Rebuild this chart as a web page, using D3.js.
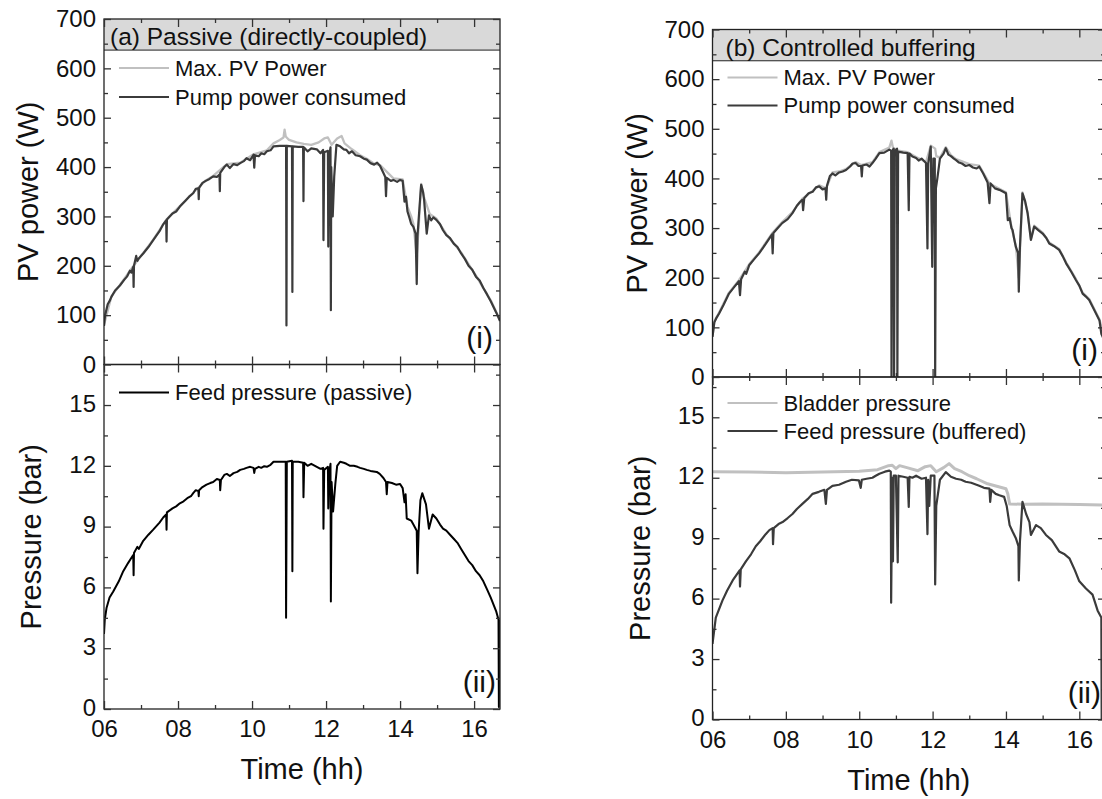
<!DOCTYPE html>
<html>
<head>
<meta charset="utf-8">
<script src="https://cdn.jsdelivr.net/npm/d3@7"></script>
<style>
body { margin: 0; background: #fff; }
text { font-family: "Liberation Sans", Arial, sans-serif; fill: #111; }
</style>
</head>
<body>
<svg id="chart" width="1102" height="799"></svg>
<script>
//** DATA *****************************************
const timeDomain = [6, 16.7];
const powerDomain = [0, 700];
const pressureDomain = [0, 17];

const timeTicks = [6, 8, 10, 12, 14, 16];
const timeMinor = [7, 9, 11, 13, 15];
const powerTicks = [0, 100, 200, 300, 400, 500, 600, 700];
const powerMinor = [50, 150, 250, 350, 450, 550, 650];
const pressureTicks = [0, 3, 6, 9, 12, 15];
const pressureMinor = [1.5, 4.5, 7.5, 10.5, 13.5, 16.5];

// (a) passive - [hour, W]
const maxPvPassive = [[6.00, 80], [6.20, 138], [6.43, 161], [6.79, 199], [7.06, 226], [7.33, 253], [7.69, 294], [8.05, 321], [8.41, 348], [8.75, 373], [8.95, 382], [9.32, 406], [9.68, 409], [10.04, 426], [10.40, 434], [10.58, 448], [10.75, 455], [10.85, 460], [10.88, 476], [10.91, 462], [11.00, 455], [11.20, 450], [11.40, 447], [11.60, 445], [11.80, 450], [11.95, 458], [12.05, 460], [12.15, 445], [12.30, 458], [12.42, 463], [12.50, 448], [12.70, 436], [12.92, 424], [13.10, 417], [13.30, 407], [13.46, 404], [13.82, 377], [14.07, 375], [14.20, 320], [14.30, 300], [14.36, 285], [14.45, 220], [14.50, 275], [14.57, 366], [14.65, 338], [14.80, 305], [14.98, 296], [15.25, 264], [15.65, 227], [16.05, 180], [16.45, 130], [16.70, 90]];

const pumpPassive = [[6.00, 78], [6.03, 100], [6.10, 122], [6.16, 130], [6.20, 137], [6.30, 150], [6.43, 160], [6.55, 172], [6.62, 178], [6.70, 190], [6.74, 186], [6.79, 198], [6.80, 157], [6.81, 200], [6.87, 220], [6.90, 210], [6.93, 214], [7.06, 225], [7.20, 238], [7.33, 252], [7.50, 270], [7.60, 284], [7.68, 292], [7.69, 249], [7.70, 294], [7.85, 306], [7.95, 310], [8.05, 320], [8.20, 332], [8.30, 340], [8.41, 347], [8.48, 356], [8.55, 357], [8.56, 335], [8.57, 358], [8.66, 368], [8.75, 372], [8.85, 376], [8.95, 381], [9.05, 380], [9.12, 385], [9.13, 351], [9.14, 388], [9.25, 400], [9.32, 405], [9.40, 398], [9.50, 406], [9.60, 404], [9.68, 408], [9.78, 412], [9.85, 418], [9.95, 414], [10.04, 425], [10.06, 399], [10.08, 424], [10.18, 422], [10.25, 428], [10.33, 426], [10.40, 432], [10.50, 434], [10.58, 442], [10.75, 443], [10.92, 443], [10.93, 79], [10.94, 443], [11.08, 442], [11.09, 147], [11.10, 442], [11.25, 441], [11.38, 441], [11.39, 331], [11.40, 440], [11.50, 432], [11.60, 438], [11.75, 436], [11.85, 428], [11.92, 435], [11.93, 252], [11.95, 430], [12.05, 433], [12.06, 239], [12.08, 420], [12.12, 440], [12.13, 110], [12.14, 400], [12.18, 300], [12.22, 380], [12.28, 445], [12.38, 442], [12.48, 436], [12.55, 435], [12.62, 428], [12.70, 432], [12.80, 424], [12.92, 422], [13.02, 417], [13.10, 415], [13.20, 408], [13.30, 405], [13.38, 409], [13.46, 402], [13.55, 388], [13.60, 380], [13.62, 341], [13.64, 378], [13.75, 372], [13.82, 374], [13.92, 370], [14.00, 374], [14.07, 372], [14.12, 330], [14.16, 340], [14.20, 310], [14.25, 298], [14.30, 285], [14.36, 279], [14.42, 265], [14.45, 163], [14.47, 260], [14.55, 345], [14.57, 364], [14.62, 350], [14.65, 333], [14.72, 265], [14.78, 302], [14.84, 292], [14.90, 298], [14.98, 293], [15.08, 284], [15.16, 272], [15.25, 262], [15.35, 256], [15.45, 245], [15.55, 238], [15.65, 225], [15.75, 214], [15.85, 200], [15.95, 192], [16.05, 178], [16.15, 170], [16.25, 155], [16.35, 142], [16.45, 128], [16.60, 105], [16.70, 88]];

// (a) passive - [hour, bar]
const feedPassive = [[6.00, 3.7], [6.02, 4.4], [6.07, 5.0], [6.15, 5.5], [6.25, 5.8], [6.40, 6.3], [6.52, 6.8], [6.65, 7.2], [6.72, 7.4], [6.79, 7.6], [6.80, 6.6], [6.81, 7.7], [6.90, 8.0], [6.94, 7.9], [7.06, 8.3], [7.20, 8.6], [7.33, 8.85], [7.50, 9.2], [7.60, 9.45], [7.68, 9.6], [7.69, 8.85], [7.70, 9.7], [7.85, 9.9], [7.95, 10.0], [8.05, 10.15], [8.15, 10.25], [8.25, 10.4], [8.35, 10.5], [8.41, 10.65], [8.48, 10.8], [8.55, 10.75], [8.56, 10.5], [8.57, 10.8], [8.66, 10.95], [8.77, 11.07], [8.87, 11.15], [8.95, 11.2], [9.05, 11.35], [9.13, 11.3], [9.14, 10.8], [9.16, 11.3], [9.25, 11.55], [9.32, 11.6], [9.40, 11.5], [9.50, 11.64], [9.60, 11.7], [9.68, 11.8], [9.78, 11.85], [9.85, 11.9], [9.95, 11.95], [10.04, 11.9], [10.06, 11.65], [10.08, 11.85], [10.18, 11.95], [10.25, 11.9], [10.33, 11.98], [10.40, 11.95], [10.50, 12.05], [10.58, 12.2], [10.75, 12.2], [10.91, 12.2], [10.92, 4.5], [10.94, 12.2], [11.08, 12.25], [11.09, 6.8], [11.10, 12.2], [11.25, 12.2], [11.38, 12.15], [11.39, 10.45], [11.41, 12.15], [11.50, 12.0], [11.60, 12.1], [11.75, 11.95], [11.85, 11.85], [11.92, 11.9], [11.93, 8.9], [11.95, 11.8], [12.05, 11.95], [12.06, 9.9], [12.08, 11.6], [12.12, 12.1], [12.13, 5.3], [12.15, 11.2], [12.19, 9.75], [12.25, 11.1], [12.30, 12.0], [12.38, 12.2], [12.48, 12.15], [12.55, 12.1], [12.65, 12.0], [12.75, 12.0], [12.85, 11.95], [12.92, 11.9], [13.02, 11.85], [13.10, 11.8], [13.20, 11.75], [13.37, 11.7], [13.45, 11.6], [13.55, 11.4], [13.62, 11.2], [13.64, 10.6], [13.66, 11.2], [13.78, 11.15], [13.89, 11.07], [14.00, 11.1], [14.07, 10.9], [14.12, 10.2], [14.15, 10.6], [14.18, 9.4], [14.30, 9.3], [14.36, 9.1], [14.45, 8.8], [14.47, 6.7], [14.50, 8.7], [14.55, 10.3], [14.60, 10.65], [14.70, 10.1], [14.78, 8.9], [14.88, 9.6], [14.98, 9.4], [15.08, 9.1], [15.16, 8.9], [15.25, 8.8], [15.35, 8.6], [15.45, 8.4], [15.55, 8.2], [15.65, 7.9], [15.75, 7.6], [15.85, 7.3], [15.95, 7.1], [16.05, 6.8], [16.15, 6.6], [16.25, 6.3], [16.35, 5.9], [16.45, 5.5], [16.60, 4.8], [16.66, 4.4], [16.67, 0.1], [16.69, 4.4]];

// (b) buffered - [hour, W]
const maxPvBuffered = [[6.00, 82], [6.05, 112], [6.18, 130], [6.45, 170], [6.72, 195], [7.00, 227], [7.27, 251], [7.62, 289], [7.90, 312], [8.18, 332], [8.45, 359], [8.73, 375], [8.91, 386], [9.10, 380], [9.27, 412], [9.45, 414], [9.64, 419], [9.90, 433], [10.05, 427], [10.36, 433], [10.55, 453], [10.82, 462], [10.88, 476], [10.92, 462], [11.06, 456], [11.32, 453], [11.55, 443], [11.82, 433], [11.95, 466], [12.07, 460], [12.10, 445], [12.20, 442], [12.36, 463], [12.50, 447], [12.64, 439], [13.00, 429], [13.27, 426], [13.55, 390], [13.82, 379], [14.00, 372], [14.15, 302], [14.27, 264], [14.35, 200], [14.45, 372], [14.59, 332], [14.68, 278], [14.77, 305], [15.00, 291], [15.18, 271], [15.45, 258], [15.64, 231], [15.91, 197], [16.09, 170], [16.27, 157], [16.55, 116], [16.70, 72]];

const pumpBuffered = [[6.00, 81], [6.05, 110], [6.10, 118], [6.18, 128], [6.30, 145], [6.45, 168], [6.60, 182], [6.72, 193], [6.75, 165], [6.78, 197], [6.88, 212], [6.92, 208], [7.00, 225], [7.12, 236], [7.27, 249], [7.45, 268], [7.62, 287], [7.64, 249], [7.66, 290], [7.78, 300], [7.90, 310], [8.05, 318], [8.18, 330], [8.30, 345], [8.38, 352], [8.45, 357], [8.47, 336], [8.50, 360], [8.62, 370], [8.73, 373], [8.82, 382], [8.91, 384], [9.00, 378], [9.08, 380], [9.10, 357], [9.12, 385], [9.20, 405], [9.27, 410], [9.35, 406], [9.45, 412], [9.55, 414], [9.64, 417], [9.75, 424], [9.82, 430], [9.90, 431], [9.98, 425], [10.05, 425], [10.07, 404], [10.09, 426], [10.20, 428], [10.28, 424], [10.36, 431], [10.45, 440], [10.55, 451], [10.68, 452], [10.82, 458], [10.87, 456], [10.88, -5], [10.90, 455], [10.94, 460], [10.95, -5], [10.97, 455], [11.03, 460], [11.04, -5], [11.06, 454], [11.20, 452], [11.32, 451], [11.35, 336], [11.37, 450], [11.45, 444], [11.55, 441], [11.62, 436], [11.70, 440], [11.82, 431], [11.86, 259], [11.88, 430], [11.95, 464], [11.99, 222], [12.02, 440], [12.06, 440], [12.07, -5], [12.09, 380], [12.13, 400], [12.20, 440], [12.30, 450], [12.36, 461], [12.43, 448], [12.50, 445], [12.58, 440], [12.64, 437], [12.72, 432], [12.80, 430], [12.90, 425], [13.00, 427], [13.10, 422], [13.20, 420], [13.27, 424], [13.38, 410], [13.50, 392], [13.55, 350], [13.58, 390], [13.70, 380], [13.82, 377], [13.90, 374], [14.00, 370], [14.05, 316], [14.10, 320], [14.15, 300], [14.18, 296], [14.22, 280], [14.27, 262], [14.33, 250], [14.35, 172], [14.38, 260], [14.45, 370], [14.52, 355], [14.59, 330], [14.68, 276], [14.77, 303], [14.88, 296], [15.00, 289], [15.10, 280], [15.18, 269], [15.30, 264], [15.45, 256], [15.55, 243], [15.64, 229], [15.78, 212], [15.91, 195], [16.00, 184], [16.09, 168], [16.18, 162], [16.27, 155], [16.40, 136], [16.55, 114], [16.60, 87], [16.70, 70]];

// (b) buffered - [hour, bar]
const bladderPressure = [[6.00, 12.3], [7.00, 12.28], [8.00, 12.25], [9.00, 12.28], [10.00, 12.32], [10.50, 12.4], [10.80, 12.6], [10.90, 12.62], [11.00, 12.45], [11.10, 12.6], [11.30, 12.5], [11.60, 12.35], [11.80, 12.55], [11.95, 12.6], [12.10, 12.3], [12.30, 12.5], [12.45, 12.7], [12.60, 12.45], [12.80, 12.3], [13.00, 12.1], [13.20, 11.95], [13.50, 11.7], [13.80, 11.55], [14.00, 11.45], [14.05, 11.2], [14.10, 10.7], [14.50, 10.68], [15.00, 10.7], [15.50, 10.68], [16.00, 10.67], [16.70, 10.65]];

const feedBuffered = [[6.00, 3.75], [6.09, 5.06], [6.27, 5.9], [6.40, 6.4], [6.55, 6.9], [6.74, 7.4], [6.75, 6.6], [6.77, 7.45], [6.91, 7.85], [7.05, 8.2], [7.18, 8.6], [7.30, 8.85], [7.45, 9.2], [7.55, 9.4], [7.64, 9.5], [7.65, 8.7], [7.67, 9.5], [7.80, 9.7], [7.91, 9.8], [8.05, 10.0], [8.18, 10.2], [8.30, 10.45], [8.45, 10.7], [8.60, 10.95], [8.73, 11.2], [8.90, 11.3], [9.05, 11.4], [9.09, 10.7], [9.12, 11.4], [9.27, 11.6], [9.45, 11.65], [9.64, 11.8], [9.80, 11.9], [9.99, 11.87], [10.04, 11.5], [10.07, 11.9], [10.20, 11.95], [10.36, 12.0], [10.45, 12.1], [10.55, 12.2], [10.70, 12.3], [10.82, 12.35], [10.86, 12.3], [10.87, 5.8], [10.90, 12.0], [10.92, 7.85], [10.94, 12.1], [11.00, 12.1], [11.05, 7.8], [11.07, 12.1], [11.20, 12.05], [11.32, 12.0], [11.35, 10.55], [11.37, 12.05], [11.45, 12.0], [11.55, 12.1], [11.70, 11.95], [11.82, 12.0], [11.86, 9.2], [11.88, 11.9], [11.91, 10.6], [11.95, 12.1], [12.05, 12.1], [12.07, 6.7], [12.10, 10.6], [12.20, 11.9], [12.36, 12.28], [12.50, 12.05], [12.64, 11.95], [12.78, 11.9], [12.90, 11.8], [13.05, 11.75], [13.27, 11.6], [13.40, 11.5], [13.55, 11.46], [13.57, 10.8], [13.60, 11.4], [13.72, 11.2], [13.82, 11.13], [13.95, 11.05], [14.02, 10.6], [14.10, 9.65], [14.18, 9.33], [14.27, 9.0], [14.34, 8.6], [14.35, 6.9], [14.38, 8.8], [14.45, 10.8], [14.55, 10.2], [14.64, 9.8], [14.68, 9.16], [14.82, 9.65], [14.95, 9.5], [15.09, 9.16], [15.25, 8.9], [15.45, 8.34], [15.60, 8.2], [15.73, 8.0], [15.88, 7.4], [16.00, 6.86], [16.18, 6.5], [16.36, 6.2], [16.50, 5.4], [16.60, 5.06], [16.61, 0.0]];

//** COLOURS *****************************************
const LIGHT = "#c0c0c0";
const DARK = "#3b3b3b";
const BLACK = "#000000";

let svg = d3.select("#chart");

let clipCount = 0;

drawPanel = function(p)
{
    let chart = svg.append("g").attr("class", "panel");

    //** SCALES *****************************************
    let x = d3.scaleLinear().domain(timeDomain).range([p.x0, p.x1]);
    let yTop = d3.scaleLinear().domain(powerDomain).range([p.midY, p.topY]);
    let yBot = d3.scaleLinear().domain(pressureDomain).range([p.botY, p.midY]);

    //header band
    chart.append("rect")
        .attr("x", p.x0)
        .attr("y", yTop(700))
        .attr("width", p.x1 - p.x0)
        .attr("height", yTop(p.headerBottom) - yTop(700))
        .attr("fill", "#d9d9d9");
    chart.append("line")
        .attr("x1", p.x0).attr("x2", p.x1)
        .attr("y1", yTop(p.headerBottom)).attr("y2", yTop(p.headerBottom))
        .attr("stroke", "#222").attr("stroke-width", 1);

    chart.append("text")
        .attr("x", p.x0 + p.titleDx)
        .attr("y", p.topY + 26)
        .attr("font-size", "24.5px")
        .text(p.title);

    //** LINES *****************************************
    let subplots = [
        {y: yTop, series: p.topSeries, y0: p.topY, y1: p.midY},
        {y: yBot, series: p.botSeries, y0: p.midY, y1: p.botY}
    ];

    subplots.forEach(function(s)
    {
        let id = "clip" + (clipCount++);
        svg.append("clipPath").attr("id", id)
            .append("rect")
            .attr("x", p.x0).attr("y", s.y0)
            .attr("width", p.x1 - p.x0).attr("height", s.y1 - s.y0);

        let line = d3.line()
            .x(d => x(d[0]))
            .y(d => s.y(d[1]));

        s.series.forEach(function(ser)
        {
            chart.append("path")
                .datum(ser.data)
                .attr("clip-path", "url(#" + id + ")")
                .attr("d", line)
                .attr("fill", "none")
                .attr("stroke", ser.color)
                .attr("stroke-width", ser.width)
                .attr("stroke-linejoin", "round");
        });

        //legend
        s.series.forEach(function(ser, i)
        {
            let ly = s.y0 + ser.legendDy;
            chart.append("line")
                .attr("x1", p.x0 + 15).attr("x2", p.x0 + 65)
                .attr("y1", ly).attr("y2", ly)
                .attr("stroke", ser.color)
                .attr("stroke-width", 2);
            chart.append("text")
                .attr("x", p.x0 + 71)
                .attr("y", ly)
                .attr("dy", "0.35em")
                .attr("font-size", "22px")
                .text(ser.name);
        });

        //frame
        chart.append("rect")
            .attr("x", p.x0).attr("y", s.y0)
            .attr("width", p.x1 - p.x0).attr("height", s.y1 - s.y0)
            .attr("fill", "none")
            .attr("stroke", "#222")
            .attr("stroke-width", 1.3);
    });

    //** AXES *****************************************
    function addAxis(axis, tx, ty)
    {
        let g = chart.append("g")
            .attr("transform", "translate(" + tx + "," + ty + ")")
            .call(axis);
        g.select(".domain").remove();
        g.selectAll(".tick line").attr("stroke", "#333").attr("stroke-width", 1.3);
        g.selectAll(".tick text").attr("font-size", "24px").attr("fill", "#111")
            .style("font-family", "'Liberation Sans', Arial, sans-serif");
        return g;
    }

    let noLabel = () => "";

    //x axes : bottom with labels, others inward ticks only
    addAxis(d3.axisBottom(x).tickValues(timeTicks).tickSize(-8).tickPadding(11).tickFormat(d3.format("02d")), 0, p.botY);
    addAxis(d3.axisBottom(x).tickValues(timeMinor).tickSize(-4).tickFormat(noLabel), 0, p.botY);
    addAxis(d3.axisTop(x).tickValues(timeTicks).tickSize(-8).tickFormat(noLabel), 0, p.midY);
    addAxis(d3.axisTop(x).tickValues(timeMinor).tickSize(-4).tickFormat(noLabel), 0, p.midY);
    addAxis(d3.axisBottom(x).tickValues(timeTicks).tickSize(-8).tickFormat(noLabel), 0, p.midY);
    addAxis(d3.axisBottom(x).tickValues(timeMinor).tickSize(-4).tickFormat(noLabel), 0, p.midY);
    addAxis(d3.axisTop(x).tickValues(timeTicks).tickSize(-8).tickFormat(noLabel), 0, p.topY);
    addAxis(d3.axisTop(x).tickValues(timeMinor).tickSize(-4).tickFormat(noLabel), 0, p.topY);

    //y axes
    addAxis(d3.axisLeft(yTop).tickValues(powerTicks).tickSize(-7).tickPadding(8), p.x0, 0);
    addAxis(d3.axisLeft(yTop).tickValues(powerMinor).tickSize(-4).tickFormat(noLabel), p.x0, 0);
    addAxis(d3.axisRight(yTop).tickValues(powerTicks).tickSize(-7).tickFormat(noLabel), p.x1, 0);
    addAxis(d3.axisRight(yTop).tickValues(powerMinor).tickSize(-4).tickFormat(noLabel), p.x1, 0);

    let yLab = addAxis(d3.axisLeft(yBot).tickValues(pressureTicks).tickSize(-7).tickPadding(8), p.x0, 0);
    yLab.selectAll(".tick text").attr("dy", "0.26em");
    addAxis(d3.axisLeft(yBot).tickValues(pressureMinor).tickSize(-4).tickFormat(noLabel), p.x0, 0);
    addAxis(d3.axisRight(yBot).tickValues(pressureTicks).tickSize(-7).tickFormat(noLabel), p.x1, 0);
    addAxis(d3.axisRight(yBot).tickValues(pressureMinor).tickSize(-4).tickFormat(noLabel), p.x1, 0);

    //** LABELS *****************************************
    chart.append("text")
        .attr("transform", "translate(" + (p.x0 - 76) + "," + ((p.topY + p.midY) / 2) + ") rotate(-90)")
        .attr("text-anchor", "middle")
        .attr("dy", "0.35em")
        .attr("font-size", "29px")
        .text("PV power (W)");

    chart.append("text")
        .attr("transform", "translate(" + (p.x0 - 73) + "," + ((p.midY + p.botY) / 2) + ") rotate(-90)")
        .attr("text-anchor", "middle")
        .attr("dy", "0.35em")
        .attr("font-size", "29px")
        .text("Pressure (bar)");

    chart.append("text")
        .attr("x", (p.x0 + p.x1) / 2)
        .attr("y", p.botY + 70)
        .attr("text-anchor", "middle")
        .attr("font-size", "29px")
        .text("Time (hh)");

    chart.append("text")
        .attr("x", p.x1 - 7)
        .attr("y", p.midY - 17)
        .attr("text-anchor", "end")
        .attr("font-size", "30px")
        .text("(i)");

    chart.append("text")
        .attr("x", p.x1 - 4)
        .attr("y", p.botY - 17)
        .attr("text-anchor", "end")
        .attr("font-size", "30px")
        .text("(ii)");
};

drawPanel({
    x0: 104, x1: 500, topY: 19, midY: 364.5, botY: 709,
    headerBottom: 637, titleDx: 6,
    title: "(a) Passive (directly-coupled)",
    topSeries: [
        {name: "Max. PV Power", data: maxPvPassive, color: LIGHT, width: 2.3, legendDy: 49},
        {name: "Pump power consumed", data: pumpPassive, color: DARK, width: 2.2, legendDy: 78}
    ],
    botSeries: [
        {name: "Feed pressure (passive)", data: feedPassive, color: BLACK, width: 2, legendDy: 28}
    ]
});

drawPanel({
    x0: 712.5, x1: 1105, topY: 29.5, midY: 377, botY: 719.5,
    headerBottom: 637, titleDx: 13,
    title: "(b) Controlled buffering",
    topSeries: [
        {name: "Max. PV Power", data: maxPvBuffered, color: LIGHT, width: 2.3, legendDy: 48},
        {name: "Pump power consumed", data: pumpBuffered, color: DARK, width: 2.2, legendDy: 76}
    ],
    botSeries: [
        {name: "Bladder pressure", data: bladderPressure, color: LIGHT, width: 3, legendDy: 26},
        {name: "Feed pressure (buffered)", data: feedBuffered, color: DARK, width: 2.2, legendDy: 54}
    ]
});
</script>
</body>
</html>
